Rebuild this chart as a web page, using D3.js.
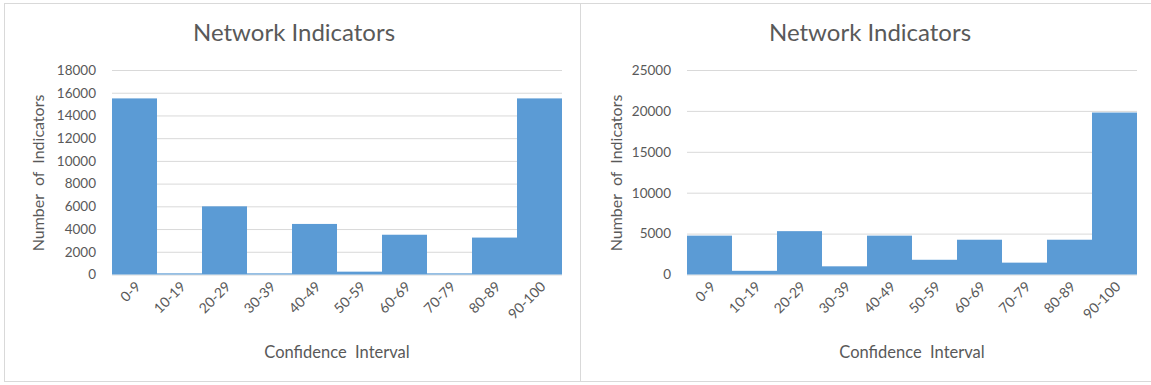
<!DOCTYPE html>
<html>
<head>
<meta charset="utf-8">
<script src="https://cdn.jsdelivr.net/npm/d3@7"></script>
<style>
  html, body { margin: 0; padding: 0; background: #fff; }
  svg { display: block; }
  text { font-family: Lato, "Open Sans", sans-serif; fill: #595959; }
</style>
</head>
<body>
<svg id="chart" width="1151" height="385"></svg>
<script>
// Confidence-interval buckets shared by both histograms
const categories = ["0-9", "10-19", "20-29", "30-39", "40-49", "50-59", "60-69", "70-79", "80-89", "90-100"];

// Indicator counts per bucket
const leftValues  = [15500, 100, 6000, 100, 4450, 250, 3500, 100, 3250, 15500];
const rightValues = [4750, 450, 5300, 1000, 4750, 1800, 4250, 1450, 4250, 19800];

// Y-axis tick values
const leftTicks  = [0, 2000, 4000, 6000, 8000, 10000, 12000, 14000, 16000, 18000];
const rightTicks = [0, 5000, 10000, 15000, 20000, 25000];

const titleText = "Network Indicators";
const xTitleText = "Confidence  Interval";
const yTitleText = "Number  of  Indicators";

const BAR = "#5B9BD5";
const GRID = "#D9D9D9";

const svg = d3.select("#chart");

// Panel frames
svg.append("rect").attr("x", 4.5).attr("y", 3.5).attr("width", 576).attr("height", 378)
  .attr("fill", "none").attr("stroke", GRID);
svg.append("rect").attr("x", 580.5).attr("y", 3.5).attr("width", 620).attr("height", 378)
  .attr("fill", "none").attr("stroke", GRID);

function drawPanel(opts) {
  const { panelCx, x0, x1, yTop, yBase, values, ticks, yMax, yTitleX } = opts;

  const x = d3.scaleBand().domain(categories).range([x0, x1]).paddingInner(0).paddingOuter(0);
  const y = d3.scaleLinear().domain([0, yMax]).range([yBase, yTop]);

  const g = svg.append("g");

  // Title
  g.append("text")
    .attr("x", panelCx).attr("y", 41)
    .attr("text-anchor", "middle")
    .style("font-size", "24px")
    .text(titleText);

  // Gridlines + y tick labels
  const yAxis = d3.axisLeft(y).tickValues(ticks).tickSize(-(x1 - x0)).tickPadding(16)
    .tickFormat(d3.format("d"));
  const ya = g.append("g").attr("transform", `translate(${x0},0)`).call(yAxis);
  ya.select(".domain").remove();
  ya.selectAll(".tick line").attr("stroke", GRID).attr("stroke-width", 1);
  ya.selectAll(".tick text")
    .style("font-size", "13.5px").style("font-family", "Lato, sans-serif")
    .attr("fill", "#595959");

  // Bars
  g.append("g").selectAll("rect").data(values).join("rect")
    .attr("x", (d, i) => x(categories[i]))
    .attr("y", d => y(d))
    .attr("width", x.bandwidth())
    .attr("height", d => yBase - y(d))
    .attr("fill", BAR);

  // X tick labels, rotated
  const xAxis = d3.axisBottom(x).tickSize(0).tickPadding(0);
  const xa = g.append("g").attr("transform", `translate(0,${yBase})`).call(xAxis);
  xa.select(".domain").remove();
  xa.selectAll(".tick text")
    .style("font-size", "14px").style("font-family", "Lato, sans-serif")
    .attr("fill", "#595959")
    .attr("text-anchor", "end")
    .attr("dy", 0).attr("y", 0)
    .attr("transform", "translate(7,13) rotate(-45)");

  // Axis titles
  g.append("text")
    .attr("x", (x0 + x1) / 2).attr("y", 358)
    .attr("text-anchor", "middle")
    .style("font-size", "16.5px")
    .style("white-space", "pre")
    .text(xTitleText);

  g.append("text")
    .attr("transform", `translate(${yTitleX},173) rotate(-90)`)
    .attr("text-anchor", "middle")
    .style("font-size", "16px")
    .style("white-space", "pre")
    .text(yTitleText);
}

drawPanel({ panelCx: 294, x0: 112, x1: 562, yTop: 70, yBase: 274.5,
  values: leftValues, ticks: leftTicks, yMax: 18000, yTitleX: 44 });
drawPanel({ panelCx: 870, x0: 687, x1: 1137, yTop: 70, yBase: 274.5,
  values: rightValues, ticks: rightTicks, yMax: 25000, yTitleX: 622 });
</script>
</body>
</html>
